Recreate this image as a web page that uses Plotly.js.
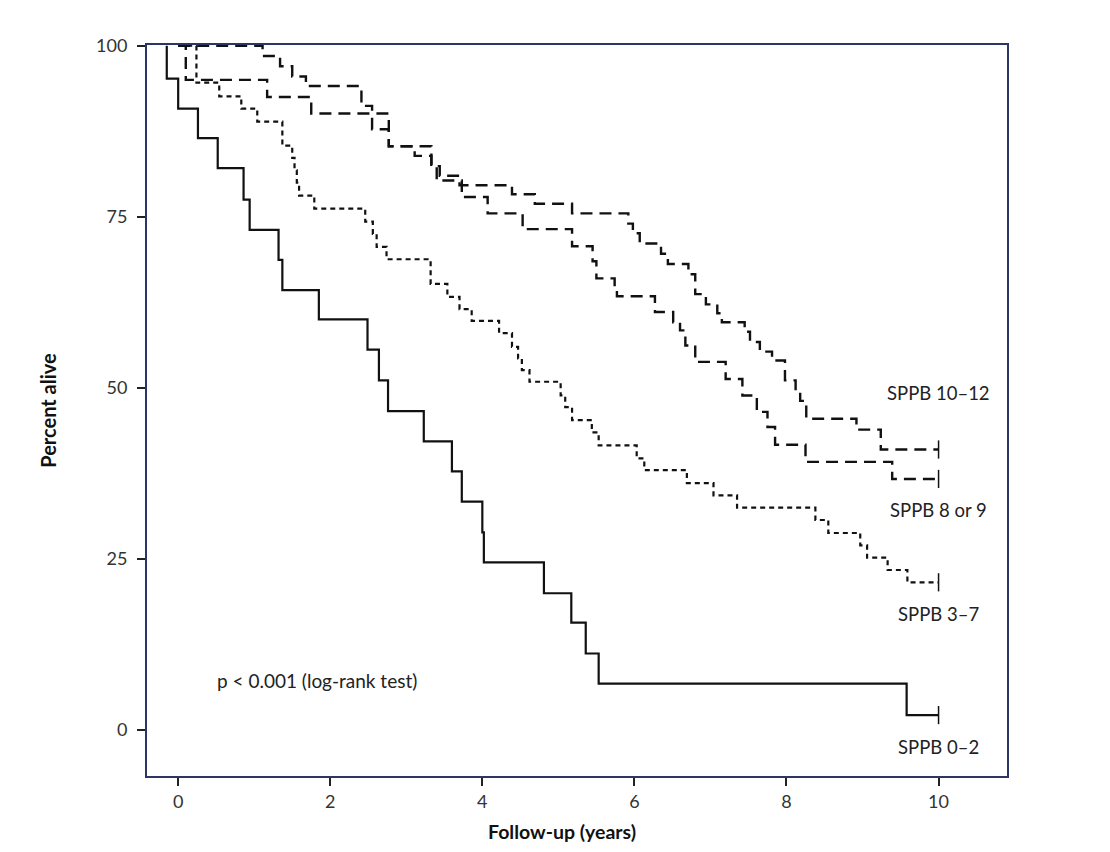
<!DOCTYPE html>
<html>
<head>
<meta charset="utf-8">
<script src="https://cdn.plot.ly/plotly-3.0.1.min.js"></script>
<style>html,body{margin:0;padding:0;background:#fff;}#chart{width:1110px;height:852px;}</style>
</head>
<body>
<div id="chart"></div>
<script>
// SPPB 10–12
const timeA = [0, 1.11, 1.34, 1.50, 1.68, 2.41, 2.55, 2.77, 3.11, 3.33, 3.44, 3.70, 4.39, 4.69, 5.18, 5.92, 5.98, 6.07, 6.35, 6.44, 6.71, 6.80, 6.94, 7.09, 7.15, 7.45, 7.52, 7.65, 7.81, 7.98, 8.12, 8.18, 8.26, 8.92, 9.24, 10.0];
const survA = [100, 98.5, 97.0, 95.5, 94.1, 91.2, 87.8, 85.3, 83.9, 82.4, 81.0, 79.6, 78.3, 76.9, 75.5, 74.0, 72.6, 71.1, 69.6, 68.1, 66.6, 63.7, 62.2, 60.9, 59.6, 58.2, 56.7, 55.3, 54.0, 51.1, 49.6, 48.1, 45.5, 43.9, 41.0, 41.0];
// SPPB 8 or 9
const timeB = [0, 0.10, 1.17, 1.75, 2.77, 3.33, 3.40, 3.73, 4.07, 4.53, 5.18, 5.45, 5.50, 5.74, 5.77, 6.27, 6.51, 6.60, 6.67, 6.80, 7.20, 7.42, 7.61, 7.75, 7.85, 8.25, 9.39, 10.0];
const survB = [100, 95.0, 92.5, 90.1, 85.3, 82.6, 80.3, 77.9, 75.5, 73.2, 70.7, 68.5, 66.0, 64.8, 63.4, 61.1, 59.6, 58.4, 56.2, 53.8, 51.3, 48.9, 46.5, 44.3, 41.7, 39.2, 36.7, 36.7];
// SPPB 3–7
const timeC = [0, 0.24, 0.54, 0.83, 1.04, 1.37, 1.50, 1.53, 1.56, 1.59, 1.79, 2.46, 2.56, 2.61, 2.74, 3.32, 3.54, 3.70, 3.86, 4.22, 4.39, 4.47, 4.52, 4.62, 5.03, 5.09, 5.18, 5.44, 5.53, 6.03, 6.13, 6.69, 7.04, 7.35, 8.38, 8.55, 8.97, 9.06, 9.33, 9.59, 10.0];
const survC = [100, 94.6, 92.6, 90.8, 88.9, 85.4, 83.6, 81.8, 80.0, 78.1, 76.2, 74.3, 72.5, 70.6, 68.8, 65.2, 63.3, 61.5, 59.8, 58.0, 56.0, 54.3, 52.6, 50.9, 48.9, 47.2, 45.3, 43.5, 41.6, 39.7, 38.0, 36.1, 34.3, 32.5, 30.7, 28.8, 27.0, 25.2, 23.4, 21.6, 21.6];
// SPPB 0–2
const timeD = [-0.15, -0.15, 0.00, 0.26, 0.52, 0.86, 0.94, 1.32, 1.37, 1.85, 2.49, 2.64, 2.76, 3.23, 3.60, 3.73, 4.00, 4.02, 4.81, 5.17, 5.36, 5.53, 9.58, 10.0];
const survD = [100, 95.2, 90.8, 86.5, 82.1, 77.5, 73.1, 68.7, 64.3, 60.0, 55.6, 51.1, 46.6, 42.2, 37.8, 33.4, 28.9, 24.5, 20.0, 15.7, 11.2, 6.8, 2.2, 2.2];

const groupLabels = ["SPPB 10–12", "SPPB 8 or 9", "SPPB 3–7", "SPPB 0–2"];
const labelY = [49.2, 32.1, 16.9, -2.4];
const xTicks = [0, 2, 4, 6, 8, 10];
const yTicks = [0, 25, 50, 75, 100];
const pText = "p < 0.001 (log-rank test)";
const xTitle = "Follow-up (years)";
const yTitle = "Percent alive";

const series = [
  {t: timeA, s: survA, dash: "12px,7px", w: 2.4},
  {t: timeB, s: survB, dash: "12px,7px", w: 2.4},
  {t: timeC, s: survC, dash: "5px,4px", w: 2.2},
  {t: timeD, s: survD, dash: "solid", w: 2.2}
];

const ink = "#111111";
const traces = [];
series.forEach(function (sr) {
  traces.push({
    x: sr.t, y: sr.s, type: "scatter", mode: "lines",
    line: {shape: "hv", color: ink, width: sr.w, dash: sr.dash},
    hoverinfo: "skip", showlegend: false
  });
  traces.push({
    x: [sr.t[sr.t.length - 1]], y: [sr.s[sr.s.length - 1]], type: "scatter", mode: "markers",
    marker: {symbol: "line-ns-open", size: 13, color: ink, line: {color: ink, width: 1.5}},
    hoverinfo: "skip", showlegend: false
  });
});

const font = "Lato, 'Open Sans', sans-serif";
const annotations = groupLabels.map(function (lab, i) {
  return {x: 10.0, y: labelY[i], xref: "x", yref: "y", text: lab, showarrow: false,
          font: {family: font, size: 18.5, color: "#222"}, xanchor: "center", yanchor: "middle"};
});
annotations.push({x: 1.82, y: 7.3, xref: "x", yref: "y", text: pText, showarrow: false,
  font: {family: font, size: 19, color: "#222"}, xanchor: "center", yanchor: "middle"});
annotations.push({x: 0.4826, y: -0.0766, xref: "paper", yref: "paper", text: "<b>" + xTitle + "</b>",
  showarrow: false, font: {family: font, size: 19.5, color: "#111"}, xanchor: "center", yanchor: "middle"});

const frame = "#2b3566";
const layout = {
  width: 1110, height: 852,
  margin: {l: 147, r: 103, t: 45, b: 76, pad: 0},
  paper_bgcolor: "#fff", plot_bgcolor: "#fff",
  showlegend: false,
  font: {family: font, color: "#222"},
  xaxis: {
    range: [-0.41, 10.90], tickvals: xTicks, ticktext: xTicks.map(String),
    ticks: "outside", ticklen: 8, tickwidth: 2, tickcolor: "#222",
    showgrid: false, zeroline: false,
    showline: true, mirror: true, linecolor: frame, linewidth: 2,
    tickfont: {family: font, size: 18, color: "#333"}
  },
  yaxis: {
    range: [-6.7, 100.1], tickvals: yTicks, ticktext: yTicks.map(String),
    ticks: "outside", ticklen: 8, tickwidth: 2, tickcolor: "#222",
    showgrid: false, zeroline: false,
    showline: true, mirror: true, linecolor: frame, linewidth: 2,
    tickfont: {family: font, size: 18, color: "#333"},
    ticklabelstandoff: 6,
    title: {text: "<b>" + yTitle + "</b>", font: {family: font, size: 20, color: "#111"}, standoff: 34}
  },
  annotations: annotations
};

Plotly.newPlot("chart", traces, layout, {staticPlot: true, displayModeBar: false});
</script>
</body>
</html>
